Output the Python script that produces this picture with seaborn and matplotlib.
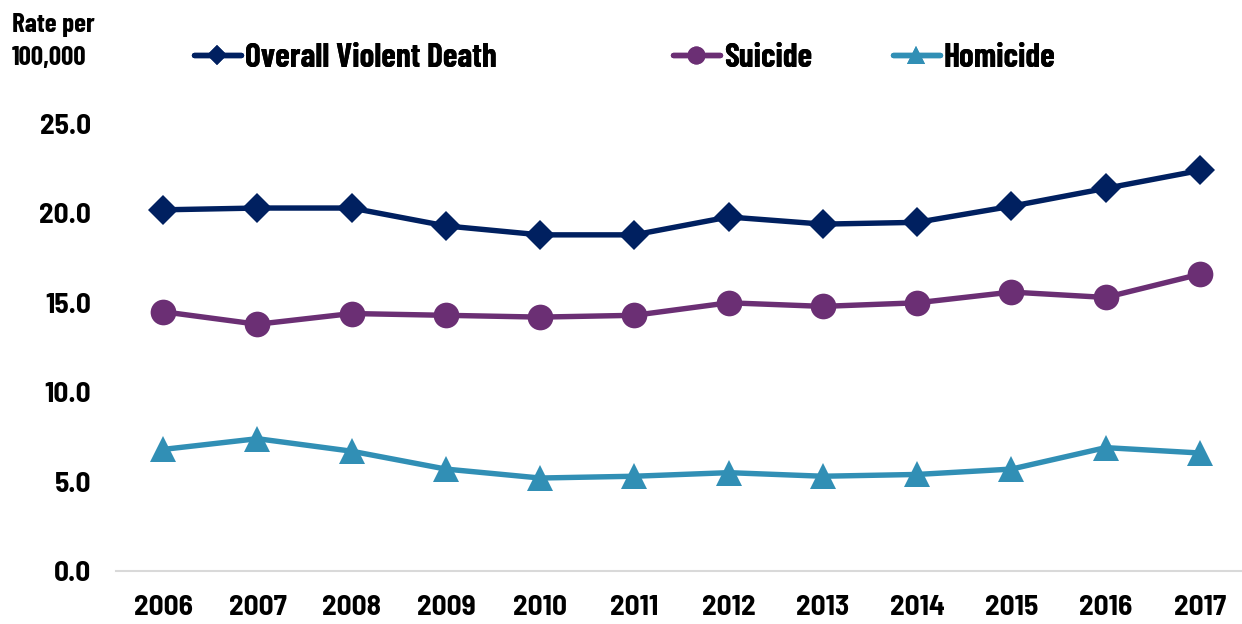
import matplotlib
matplotlib.use("Agg")
import matplotlib.pyplot as plt
import seaborn as sns
import pandas as pd
from matplotlib import font_manager

years = [2006, 2007, 2008, 2009, 2010, 2011, 2012, 2013, 2014, 2015, 2016, 2017]
overall = [20.2, 20.3, 20.3, 19.3, 18.8, 18.8, 19.8, 19.4, 19.5, 20.4, 21.4, 22.4]
suicide = [14.5, 13.8, 14.4, 14.3, 14.2, 14.3, 15.0, 14.8, 15.0, 15.6, 15.3, 16.6]
homicide = [6.8, 7.4, 6.7, 5.7, 5.2, 5.3, 5.5, 5.3, 5.4, 5.7, 6.9, 6.6]
series_names = ["Overall Violent Death", "Suicide", "Homicide"]
yticks = [0.0, 5.0, 10.0, 15.0, 20.0, 25.0]

colors = ["#002060", "#6B2F74", "#318FB5"]
markers = ["D", "o", "^"]
msizes = [15, 18.5, 18.5]

sns.set_theme(style="white")
avail = {f.name for f in font_manager.fontManager.ttflist}
fam = "Barlow Condensed" if "Barlow Condensed" in avail else "DejaVu Sans"
fam2 = "Barlow Semi Condensed" if "Barlow Semi Condensed" in avail else fam
plt.rcParams["font.family"] = [fam, "DejaVu Sans"]
plt.rcParams["font.weight"] = "bold"
plt.rcParams["text.color"] = "black"

fig = plt.figure(figsize=(12.42, 6.24), dpi=100)
ax = fig.add_axes([116 / 1242, 1 - 571 / 624, (1247 - 116) / 1242, (571 - 124) / 624])

for name, vals, c, m, ms in zip(series_names, [overall, suicide, homicide], colors, markers, msizes):
    df = pd.DataFrame({"year": years, "rate": vals})
    sns.lineplot(data=df, x="year", y="rate", ax=ax, color=c, marker=m, markersize=ms,
                 markeredgewidth=0, linewidth=3.9, clip_on=False, label=name, legend=False)

ax.set_xlim(2005.5, 2017.5)
ax.set_ylim(0, 25)
ax.set_xticks(years)
ax.set_xticklabels([str(y) for y in years])
ax.set_yticks(yticks)
ax.set_yticklabels([f"{v:.1f}" for v in yticks])
ax.tick_params(axis="both", length=0, colors="black")
ax.tick_params(axis="y", pad=18)
ax.tick_params(axis="x", pad=17)
for lab in ax.get_xticklabels() + ax.get_yticklabels():
    lab.set_fontweight("bold")
    lab.set_fontfamily([fam2, "DejaVu Sans"])
    lab.set_fontsize(21)
ax.set_xlabel("")
ax.set_ylabel("")
for s in ["top", "right", "left"]:
    ax.spines[s].set_visible(False)
ax.spines["bottom"].set_color("#d9d9d9")
ax.spines["bottom"].set_linewidth(1.5)
ax.grid(False)

lines = ax.get_lines()
leg_x = [194, 673, 893]
for ln, name, lx in zip(lines, series_names, leg_x):
    leg = fig.legend([ln], [name], loc="center left", bbox_to_anchor=(lx / 1242, 1 - 58 / 624),
                     frameon=False, handlelength=1.4, handletextpad=0.12,
                     borderpad=0, borderaxespad=0, markerscale=0.7,
                     prop={"family": [fam, "DejaVu Sans"], "weight": "bold", "size": 24})
    for t in leg.get_texts():
        t.set_color("black")
    fig.add_artist(leg)

fig.text(12 / 1242, 1 - 13 / 624, "Rate per\n100,000", ha="left", va="top", fontsize=19.5,
         fontweight="bold", linespacing=1.45, color="black")

fig.savefig("out.png", dpi=100)
